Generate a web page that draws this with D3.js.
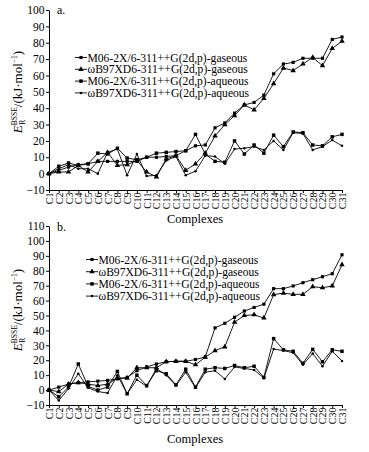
<!DOCTYPE html>
<meta charset="utf-8">
<html>
<script src="https://d3js.org/d3.v7.min.js"></script>
<style>
  body { margin: 0; background: #fff; }
  text { font-family: "Liberation Serif", "Times New Roman", serif; fill: #000; }
</style>
<body>
<div id="chart"></div>
<script>

// categories
const complexes = ["C1","C2","C3","C4","C5","C6","C7","C8","C9","C10","C11","C12","C13","C14","C15","C16",
  "C17","C18","C19","C20","C21","C22","C23","C24","C25","C26","C27","C28","C29","C30","C31"];

const seriesNames = [
  "M06-2X/6-311++G(2d,p)-gaseous",
  "\u03C9B97XD6-311++G(2d,p)-gaseous",
  "M06-2X/6-311++G(2d,p)-aqueous",
  "\u03C9B97XD6-311++G(2d,p)-aqueous"
];

// panel a values (kJ/mol)
const aM06Gas = [0, 2, 4, 5.5, 6, 7.5, 7.5, 7.5, 7.5, 7.5, 10, 10, 10.5, 11, 14, 17, 17.5, 28, 31, 37, 42, 43.5, 48, 61, 67, 68, 70.5, 70.5, 70.5, 82, 83.5];
const aWbGas  = [0, 1, 1, 5, 1, 7.5, 13, 5, 5.5, 8, 1, -2, 9, 11, 2, 6, 12.5, 23, 30, 35.5, 42, 39, 46, 55, 64.5, 63, 67, 71, 66, 76.5, 81];
const aM06Aq  = [0, 4.5, 6.5, 5, 6, 12.5, 12, 15.5, 9.5, 8.5, 10, 12.5, 13, 13.5, 14, 24, 12, 7.5, 7, 20, 12, 17.5, 12.5, 23.5, 16.5, 25.5, 25, 17.5, 17, 22.5, 24];
const aWbAq   = [0, 3, 5.5, 3, 3, 0, 13, 15, -1, 12, -1.5, -1, 8, 10.5, -1, 1.5, 11, 10.5, 6, 15, 15.5, 16.5, 14.5, 20, 14.5, 25, 24.5, 14.5, 16.5, 20.5, 17];

// panel b values (kJ/mol)
const bM06Gas = [0, 2, 4, 5, 5.5, 6, 6.5, 7.5, 8.5, 13, 15.5, 17.5, 19, 19.3, 19.3, 20.5, 22.2, 41.7, 44.8, 48.8, 53, 55.4, 57.6, 68, 68, 69.8, 72, 74, 76, 78, 90.7];
const bWbGas  = [0, -1, 4, 5, 4, 3, 4, 8, 8, 15, 15, 15, 19, 19.3, 19.3, 17, 22, 26.5, 29, 45.5, 50, 50.5, 48.3, 64, 65, 64.2, 64.2, 69.3, 68.6, 69.8, 84];
const bM06Aq  = [0, -4.5, 2, 17.5, 2.5, 0, 2, 12.5, -2.5, 10, 3, 13, 11, 3.5, 14, 2, 14, 15, 14.5, 16.5, 15, 16, 8.5, 34.5, 27, 26, 18, 27.3, 19, 27, 26];
const bWbAq   = [0, -7, 1, 11, 1.5, -1, -2, 10, -2.5, 7, 2.5, 14.5, 10, 3, 12, 1.5, 12, 13, 7.5, 15.5, 14.5, 13.5, 8, 27.5, 26.5, 25, 17, 24.5, 16, 26, 19.5];

// tick labels
const yTicksA = [-10, 0, 10, 20, 30, 40, 50, 60, 70, 80, 90, 100];
const yTicksB = [-10, 0, 10, 20, 30, 40, 50, 60, 70, 80, 90, 100, 110];

const width = 369, height = 452;

const svg = d3.select("#chart")
  .append("svg")
    .attr("width", width)
    .attr("height", height);

// marker for each series
const markers = [
  d3.symbol().type(d3.symbolSquare).size(10),
  d3.symbol().type(d3.symbolTriangle).size(13),
  d3.symbol().type(d3.symbolSquare).size(12),
  d3.symbol().type(d3.symbolCircle).size(5)
];

const x = d3.scalePoint()
  .domain(complexes)
  .range([49, 342]);

function fmt(d) { return d < 0 ? "\u2212" + Math.abs(d) : d; }

function drawPanel(cfg) {
  const g = svg.append("g");

  const y = d3.scaleLinear()
    .domain([cfg.yTicks[0], cfg.yTicks[cfg.yTicks.length - 1]])
    .range([cfg.bottom, cfg.top]);

  // Y axis
  const ya = g.append("g")
    .attr("transform", "translate(49,0)")
    .call(d3.axisLeft(y).tickValues(cfg.yTicks).tickSize(3).tickSizeOuter(0).tickFormat(fmt));
  ya.selectAll("text").style("font-size", "11.5px").attr("x", -4.5);

  // X axis
  const xa = g.append("g")
    .attr("transform", `translate(0,${cfg.bottom})`)
    .call(d3.axisBottom(x).tickSize(3).tickSizeOuter(0));
  xa.selectAll("text")
    .attr("transform", "rotate(-90)")
    .attr("text-anchor", "end")
    .attr("x", -2.5)
    .attr("y", 0)
    .attr("dy", "0.35em")
    .style("font-size", "10px");
  g.selectAll(".domain, .tick line").attr("stroke", "#000").attr("stroke-width", 1);

  // lines + markers
  const line = d3.line()
    .x((d, i) => x(complexes[i]))
    .y(d => y(d));

  cfg.series.forEach((vals, k) => {
    g.append("path")
      .datum(vals)
      .attr("fill", "none")
      .attr("stroke", "#000")
      .attr("stroke-width", 0.9)
      .attr("d", line);
    g.selectAll(null)
      .data(vals)
      .join("path")
      .attr("transform", (d, i) => `translate(${x(complexes[i])},${y(d)})`)
      .attr("d", markers[k])
      .attr("fill", "#000");
  });

  // panel tag
  g.append("text")
    .attr("x", 57)
    .attr("y", cfg.tagY)
    .style("font-size", "12px")
    .text(cfg.tag);

  // legend
  seriesNames.forEach((name, k) => {
    const ly = cfg.legendY + k * cfg.legendStep;
    g.append("line")
      .attr("x1", cfg.legendX).attr("x2", cfg.legendX + 12)
      .attr("y1", ly).attr("y2", ly)
      .attr("stroke", "#000").attr("stroke-width", 0.9);
    g.append("path")
      .attr("transform", `translate(${cfg.legendX + 6},${ly})`)
      .attr("d", markers[k]);
    g.append("text")
      .attr("x", cfg.legendX + 12.5)
      .attr("y", ly)
      .attr("dy", "0.35em")
      .style("font-size", cfg.legendFont + "px")
      .text(name);
  });

  // axis titles
  g.append("text")
    .attr("x", 195)
    .attr("y", cfg.xTitleY)
    .attr("text-anchor", "middle")
    .style("font-size", "12.5px")
    .text("Complexes");

  const t = g.append("text")
    .attr("transform", `translate(22,${cfg.titleY}) rotate(-90)`)
    .attr("text-anchor", "middle")
    .style("font-size", "13px");
  t.append("tspan").style("font-style", "italic").text("E");
  t.append("tspan").attr("dy", -5).style("font-size", "7.5px").text("BSSE");
  t.append("tspan").attr("dx", -17.5).attr("dy", 8).style("font-size", "7.5px").text("R");
  t.append("tspan").attr("dx", 12.5).attr("dy", -3).text("/(kJ\u00B7mol");
  t.append("tspan").attr("dy", -5).style("font-size", "7.5px").text("\u22121");
  t.append("tspan").attr("dy", 5).text(")");
}

drawPanel({
  top: 10, bottom: 190,
  yTicks: yTicksA,
  series: [aM06Gas, aWbGas, aM06Aq, aWbAq],
  tag: "a.", tagY: 14,
  legendX: 75, legendY: 57.5, legendStep: 11.8, legendFont: 11.6,
  xTitleY: 223, titleY: 92
});

drawPanel({
  top: 226, bottom: 405,
  yTicks: yTicksB,
  series: [bM06Gas, bWbGas, bM06Aq, bWbAq],
  tag: "b.", tagY: 231,
  legendX: 86, legendY: 259.5, legendStep: 12.2, legendFont: 11.6,
  xTitleY: 443, titleY: 310
});

</script>
</body>
</html>
